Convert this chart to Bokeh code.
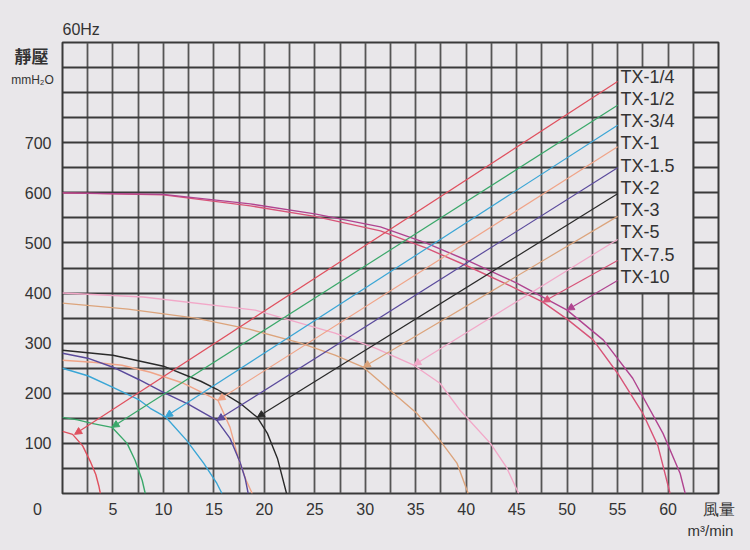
import numpy as np
from bokeh.plotting import figure
from bokeh.models import FixedTicker, Arrow, NormalHead, Range1d, ColumnDataSource, Label
from bokeh.embed import file_html
from bokeh.resources import INLINE
from bokeh.core.properties import value

# ---------------- data ----------------
models = ["TX-1/4", "TX-1/2", "TX-3/4", "TX-1", "TX-1.5", "TX-2", "TX-3", "TX-5", "TX-7.5", "TX-10"]

tx_1_4_x = [0, 1.0, 2.0, 2.8, 3.3, 3.6, 3.75]
tx_1_4_y = [124, 118, 95, 62, 38, 15, 0]

tx_1_2_x = [0, 1.5, 2.9, 4.9, 6.4, 7.2, 7.9, 8.2]
tx_1_2_y = [152, 147, 140, 132, 100, 66, 26, 0]

tx_3_4_x = [0, 2.5, 5, 7.5, 8.7, 10.2, 12.3, 14, 15.3, 15.8]
tx_3_4_y = [250, 235, 212, 188, 170, 153, 106, 60, 20, 0]

tx_1_x = [0, 3, 5.9, 8.7, 12, 15.4, 16.6, 17.4, 18.2, 18.8]
tx_1_y = [266, 262, 256, 242, 220, 186, 132, 72, 26, 0]

tx_1_5_x = [0, 2.5, 5, 7.5, 10, 12.5, 15.3, 16.6, 17.6, 18.1, 18.4]
tx_1_5_y = [280, 270, 252, 228, 202, 178, 146, 110, 62, 30, 0]

tx_2_x = [0, 5, 10, 13.7, 15.3, 17.6, 19.3, 20.3, 21.3, 22.2]
tx_2_y = [286, 276, 254, 224, 208, 180, 152, 120, 70, 0]

tx_3_x = [0, 6.5, 13.2, 18.5, 23.6, 27, 29.8, 32.8, 35.1, 37.4, 39.1, 40.2]
tx_3_y = [380, 368, 350, 328, 300, 276, 252, 200, 160, 106, 60, 0]

tx_5_x = [0, 8, 19.1, 27, 31, 34.8, 37.4, 39.4, 42.4, 44, 45.2]
tx_5_y = [400, 392, 366, 320, 290, 256, 220, 166, 100, 52, 0]

tx_7_5_x = [0, 10, 18.6, 25, 31.5, 36, 40, 44, 47.6, 50, 52.6, 55, 57.5, 59, 60.2]
tx_7_5_y = [600, 596, 574, 553, 524, 490, 455, 418, 382, 348, 306, 240, 160, 95, 0]

tx_10_x = [0, 10, 18.6, 25, 31.5, 36, 40, 45, 50, 53.6, 56.5, 59.5, 61.2, 61.7]
tx_10_y = [600, 597, 578, 558, 532, 500, 466, 420, 366, 306, 230, 120, 40, 0]

# operating points (arrow tips) and leader-line starts near the labels
arrow_x = [1.2, 4.9, 10.2, 15.4, 15.3, 19.3, 29.8, 34.8, 47.6, 50.0]
arrow_y = [118, 132, 153, 186, 146, 152, 252, 256, 382, 366]
leader_x = [55, 55, 55, 55, 55, 55, 55, 55, 55, 55]
leader_y = [822, 775, 735, 692, 650, 598, 553, 507, 465, 425]

x_tick_labels = [5, 10, 15, 20, 25, 30, 35, 40, 45, 50, 55, 60]
y_tick_labels = [100, 200, 300, 400, 500, 600, 700]

# ---------------- style / layout ----------------
BG = "#e9e7ea"
GRID = "#3a3a3a"
TXT = "#333333"
colors = ["#e0505e", "#3aa86a", "#3aa6d6", "#f0a488", "#5a4a9c",
          "#2a2a2a", "#dca47c", "#f2a8c8", "#d85478", "#b04490"]
X_MAX, Y_MAX = 65, 900
label_x = 55.3
label_y = list(np.linspace(832, 432, 10))
box = dict(left=55, right=62.5, bottom=400, top=850)
x_unit_pos = {X_MAX: "風量"}

p = figure(frame_width=656, frame_height=451,
           min_border_left=62, min_border_right=30, min_border_top=42, min_border_bottom=55,
           x_range=Range1d(0, X_MAX), y_range=Range1d(0, Y_MAX),
           output_backend="svg", toolbar_location=None,
           background_fill_color=BG, border_fill_color=BG)

# grid
p.xgrid.ticker = FixedTicker(ticks=list(np.arange(0, X_MAX + 0.1, 2.5)))
p.ygrid.ticker = FixedTicker(ticks=list(range(0, Y_MAX + 1, 50)))
p.xgrid.grid_line_color = "#555555"
p.xgrid.grid_line_width = 1.8
p.ygrid.grid_line_color = GRID
p.ygrid.grid_line_width = 1.8
p.outline_line_color = GRID
p.outline_line_width = 2

# axes
for ax in (p.xaxis[0], p.yaxis[0]):
    ax.axis_line_color = None
    ax.major_tick_line_color = None
    ax.minor_tick_line_color = None
    ax.major_tick_in = 0
    ax.major_tick_out = 0
    ax.minor_tick_in = 0
    ax.minor_tick_out = 0
    ax.major_label_text_font = "Liberation Sans"
    ax.major_label_text_font_size = "16px"
    ax.major_label_text_color = TXT
p.xaxis.ticker = FixedTicker(ticks=x_tick_labels + list(x_unit_pos))
p.yaxis.ticker = FixedTicker(ticks=y_tick_labels)
p.xaxis.major_label_overrides = x_unit_pos
p.xaxis.major_label_standoff = 7
p.yaxis.major_label_standoff = 11

# texts outside the frame: labels placed in side panels so that they are not clipped
outer_texts = [
    # (panel, x, y, text, x_offset, y_offset, size, font, style, align)
    ("above", 0, Y_MAX, "60Hz", 0, 13, "16px", "Liberation Sans", "normal", "left"),
    ("above", 0, Y_MAX, "靜壓", -31, -13, "17px", "Noto Sans CJK TC", "bold", "center"),
    ("below", 0, Y_MAX, "mmH₂O", -30, -37, "12px", "Liberation Sans", "normal", "center"),
    ("left", 0, 0, "0", -25, -15, "16px", "Liberation Sans", "normal", "center"),
    ("below", X_MAX, 0, "m³/min", -8, -37, "15px", "Liberation Sans", "normal", "center"),
]
for (side, x, y, t, xo, yo, sz, f, st, al) in outer_texts:
    p.add_layout(Label(x=x, y=y, text=t, x_offset=xo, y_offset=yo,
                       text_font=f, text_font_size=sz, text_font_style=st, text_align=al,
                       text_baseline="middle", text_color=TXT), side)

# legend box covering grid
p.quad(left=[box["left"]], right=[box["right"]], bottom=[box["bottom"]], top=[box["top"]],
       fill_color=BG, line_color=GRID, line_width=1.8)

curves = [(tx_1_4_x, tx_1_4_y), (tx_1_2_x, tx_1_2_y), (tx_3_4_x, tx_3_4_y), (tx_1_x, tx_1_y),
          (tx_1_5_x, tx_1_5_y), (tx_2_x, tx_2_y), (tx_3_x, tx_3_y), (tx_5_x, tx_5_y),
          (tx_7_5_x, tx_7_5_y), (tx_10_x, tx_10_y)]

for (xs, ys), c in zip(curves, colors):
    p.line(xs, ys, line_color=c, line_width=1.4)

for i, c in enumerate(colors):
    p.add_layout(Arrow(end=NormalHead(size=7, fill_color=c, line_color=c),
                       x_start=leader_x[i], y_start=leader_y[i],
                       x_end=arrow_x[i], y_end=arrow_y[i],
                       line_color=c, line_width=1.2))

src = ColumnDataSource(dict(x=[label_x] * len(models), y=label_y, t=models))
p.text(x="x", y="y", text="t", source=src, text_font=value("Liberation Sans"),
       text_font_size="18px", text_baseline="middle", text_align="left", text_color=TXT)

html = file_html(p, INLINE)
html = html.replace("<body>", '<body style="background:%s">' % BG)
open("out.html", "w").write(html)
